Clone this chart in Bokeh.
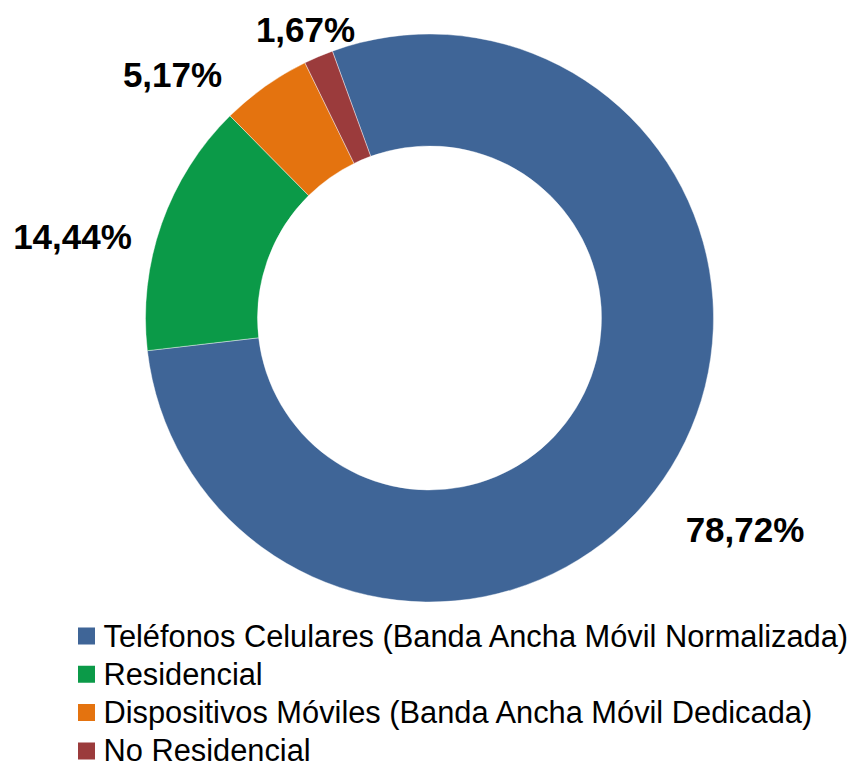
import numpy as np
from bokeh.plotting import figure
from bokeh.models import Range1d, ColumnDataSource
from bokeh.core.properties import value
from bokeh.embed import file_html
from bokeh.resources import INLINE

# ---- data ----
categories = [
    "Teléfonos Celulares (Banda Ancha Móvil Normalizada)",
    "Residencial",
    "Dispositivos Móviles (Banda Ancha Móvil Dedicada)",
    "No Residencial",
]
shares = [78.72, 14.44, 5.17, 1.67]
share_labels = ["78,72%", "14,44%", "5,17%", "1,67%"]

# ---- styles / layout ----
colors = ["#3F6597", "#0B9A48", "#E4730F", "#9B3B3C"]
W, H = 852, 768


def Y(sy):
    return H - sy


p = figure(width=W, height=H, x_range=Range1d(0, W), y_range=Range1d(0, H),
           output_backend="svg", toolbar_location=None, min_border=0)
p.axis.visible = False
p.grid.visible = False
p.outline_line_color = None
p.background_fill_color = "white"
p.border_fill_color = "white"

cx, cy = 429.0, Y(317.5)
r_out, r_in = 284.0, 172.0
first_angle = 340.0  # degrees clockwise from 12 o'clock

frac = np.array(shares) / np.sum(shares)
cum = np.concatenate([[0.0], np.cumsum(frac)])
base = np.radians(90.0 - first_angle)
start = base - cum[1:] * 2 * np.pi
end = base - cum[:-1] * 2 * np.pi

src = ColumnDataSource(dict(start=start, end=end, color=colors, cat=categories))
p.annular_wedge(x=cx, y=cy, inner_radius=r_in, outer_radius=r_out,
                start_angle="start", end_angle="end", fill_color="color",
                line_color="white", line_width=0.6, line_alpha=0.7, source=src)

# data labels (layout positions, screen coords)
lab_x = [744.5, 72.0, 172.0, 305.0]
lab_y = [Y(528.5), Y(236.0), Y(73.5), Y(28.5)]
p.text(x=lab_x, y=lab_y, text=share_labels, text_font=value("Liberation Sans"),
       text_font_style="bold", text_font_size="35px", text_align="center",
       text_baseline="middle", text_color="#000000")

# legend (manual)
row_y = [635.5 + 38.3 * i for i in range(len(categories))]
p.scatter(x=[86.0] * len(categories), y=[Y(r) for r in row_y], marker="square",
          size=17, fill_color=colors, line_color=None)
p.text(x=[103.0] * len(categories), y=[Y(r) for r in row_y], text=categories,
       text_font=value("Liberation Sans"), text_font_size="30.8px",
       text_align="left", text_baseline="middle", text_color="#000000")

open("out.html", "w").write(file_html(p, INLINE))
